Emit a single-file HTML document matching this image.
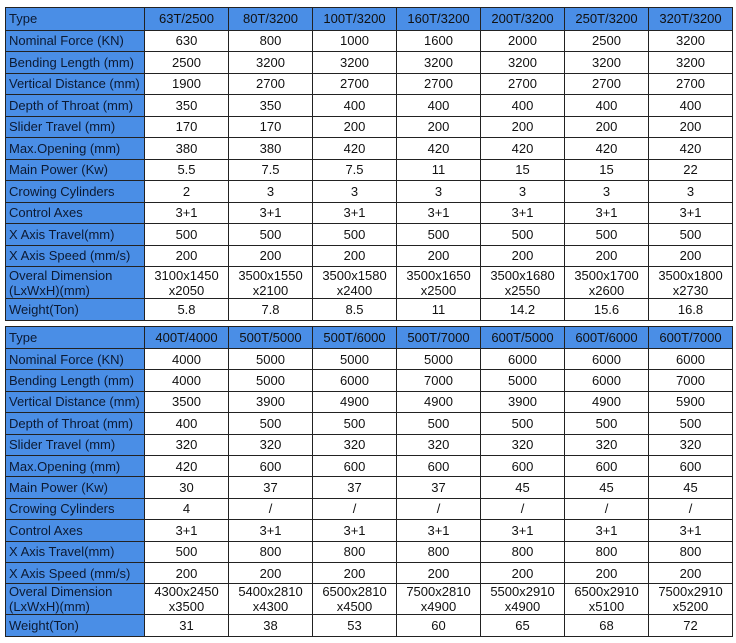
<!DOCTYPE html>
<html><head><meta charset="utf-8"><style>
body{margin:0;width:736px;height:643px;background:#fff;overflow:hidden;font-family:"Liberation Sans",Arial,sans-serif;}
table{position:absolute;left:5px;width:728px;border-collapse:collapse;table-layout:fixed;}
td{border:1.5px solid #222;font-size:13px;color:#111;text-align:center;padding:0;line-height:15px;height:20.5px;}
td:first-child{background:#4a8ee6;text-align:left;padding-left:3px;width:135px;color:#0c1a33;}
tr.h td{background:#4a8ee6;height:21.5px;}
tr.d td{height:31px;}
#t2 td{height:20.4px;}
#t2 tr.h td{height:21px;}
#t2 tr.d td{height:30px;}
</style></head><body>
<table style="top:7px">
<tr class="h"><td>Type</td><td>63T/2500</td><td>80T/3200</td><td>100T/3200</td><td>160T/3200</td><td>200T/3200</td><td>250T/3200</td><td>320T/3200</td></tr>
<tr><td>Nominal Force (KN)</td><td>630</td><td>800</td><td>1000</td><td>1600</td><td>2000</td><td>2500</td><td>3200</td></tr>
<tr><td>Bending Length (mm)</td><td>2500</td><td>3200</td><td>3200</td><td>3200</td><td>3200</td><td>3200</td><td>3200</td></tr>
<tr><td>Vertical Distance (mm)</td><td>1900</td><td>2700</td><td>2700</td><td>2700</td><td>2700</td><td>2700</td><td>2700</td></tr>
<tr><td>Depth of Throat (mm)</td><td>350</td><td>350</td><td>400</td><td>400</td><td>400</td><td>400</td><td>400</td></tr>
<tr><td>Slider Travel (mm)</td><td>170</td><td>170</td><td>200</td><td>200</td><td>200</td><td>200</td><td>200</td></tr>
<tr><td>Max.Opening (mm)</td><td>380</td><td>380</td><td>420</td><td>420</td><td>420</td><td>420</td><td>420</td></tr>
<tr><td>Main Power (Kw)</td><td>5.5</td><td>7.5</td><td>7.5</td><td>11</td><td>15</td><td>15</td><td>22</td></tr>
<tr><td>Crowing Cylinders</td><td>2</td><td>3</td><td>3</td><td>3</td><td>3</td><td>3</td><td>3</td></tr>
<tr><td>Control Axes</td><td>3+1</td><td>3+1</td><td>3+1</td><td>3+1</td><td>3+1</td><td>3+1</td><td>3+1</td></tr>
<tr><td>X Axis Travel(mm)</td><td>500</td><td>500</td><td>500</td><td>500</td><td>500</td><td>500</td><td>500</td></tr>
<tr><td>X Axis Speed (mm/s)</td><td>200</td><td>200</td><td>200</td><td>200</td><td>200</td><td>200</td><td>200</td></tr>
<tr class="d"><td>Overal Dimension<br>(LxWxH)(mm)</td><td>3100x1450<br>x2050</td><td>3500x1550<br>x2100</td><td>3500x1580<br>x2400</td><td>3500x1650<br>x2500</td><td>3500x1680<br>x2550</td><td>3500x1700<br>x2600</td><td>3500x1800<br>x2730</td></tr>
<tr><td>Weight(Ton)</td><td>5.8</td><td>7.8</td><td>8.5</td><td>11</td><td>14.2</td><td>15.6</td><td>16.8</td></tr>
</table>
<table id="t2" style="top:326px">
<tr class="h"><td>Type</td><td>400T/4000</td><td>500T/5000</td><td>500T/6000</td><td>500T/7000</td><td>600T/5000</td><td>600T/6000</td><td>600T/7000</td></tr>
<tr><td>Nominal Force (KN)</td><td>4000</td><td>5000</td><td>5000</td><td>5000</td><td>6000</td><td>6000</td><td>6000</td></tr>
<tr><td>Bending Length (mm)</td><td>4000</td><td>5000</td><td>6000</td><td>7000</td><td>5000</td><td>6000</td><td>7000</td></tr>
<tr><td>Vertical Distance (mm)</td><td>3500</td><td>3900</td><td>4900</td><td>4900</td><td>3900</td><td>4900</td><td>5900</td></tr>
<tr><td>Depth of Throat (mm)</td><td>400</td><td>500</td><td>500</td><td>500</td><td>500</td><td>500</td><td>500</td></tr>
<tr><td>Slider Travel (mm)</td><td>320</td><td>320</td><td>320</td><td>320</td><td>320</td><td>320</td><td>320</td></tr>
<tr><td>Max.Opening (mm)</td><td>420</td><td>600</td><td>600</td><td>600</td><td>600</td><td>600</td><td>600</td></tr>
<tr><td>Main Power (Kw)</td><td>30</td><td>37</td><td>37</td><td>37</td><td>45</td><td>45</td><td>45</td></tr>
<tr><td>Crowing Cylinders</td><td>4</td><td>/</td><td>/</td><td>/</td><td>/</td><td>/</td><td>/</td></tr>
<tr><td>Control Axes</td><td>3+1</td><td>3+1</td><td>3+1</td><td>3+1</td><td>3+1</td><td>3+1</td><td>3+1</td></tr>
<tr><td>X Axis Travel(mm)</td><td>500</td><td>800</td><td>800</td><td>800</td><td>800</td><td>800</td><td>800</td></tr>
<tr><td>X Axis Speed (mm/s)</td><td>200</td><td>200</td><td>200</td><td>200</td><td>200</td><td>200</td><td>200</td></tr>
<tr class="d"><td>Overal Dimension<br>(LxWxH)(mm)</td><td>4300x2450<br>x3500</td><td>5400x2810<br>x4300</td><td>6500x2810<br>x4500</td><td>7500x2810<br>x4900</td><td>5500x2910<br>x4900</td><td>6500x2910<br>x5100</td><td>7500x2910<br>x5200</td></tr>
<tr><td>Weight(Ton)</td><td>31</td><td>38</td><td>53</td><td>60</td><td>65</td><td>68</td><td>72</td></tr>
</table>
</body></html>
